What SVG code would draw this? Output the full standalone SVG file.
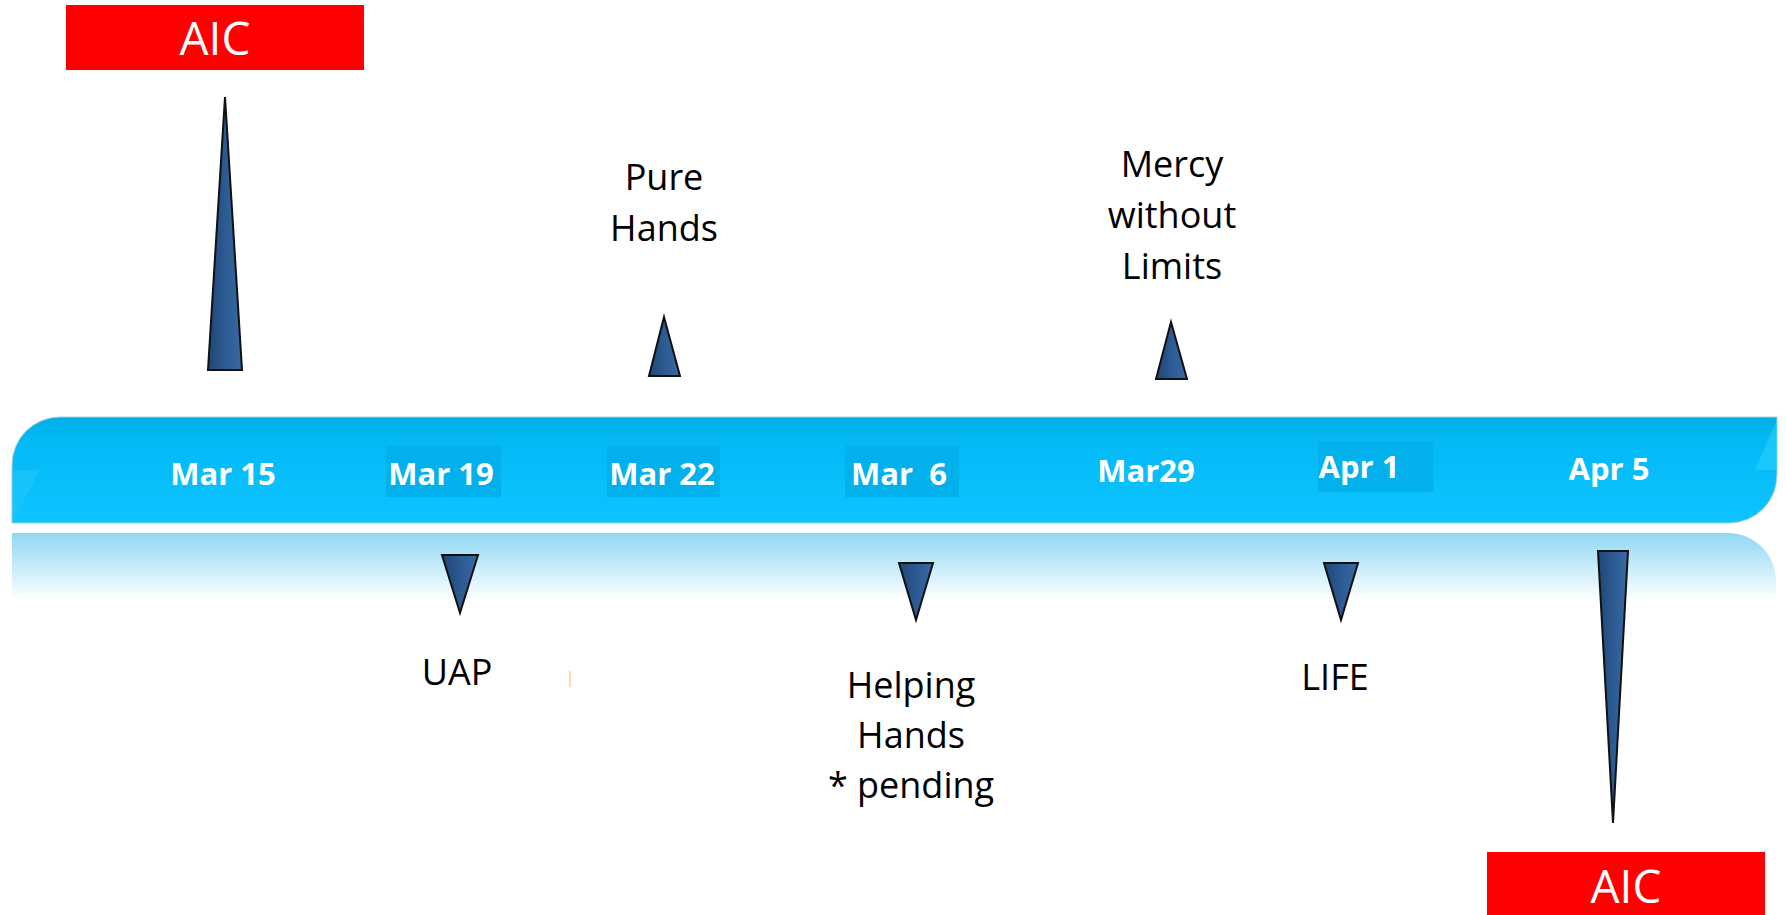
<svg xmlns="http://www.w3.org/2000/svg" width="1786" height="915" viewBox="0 0 1786 915">
<defs>
<linearGradient id="barG" x1="0" y1="0" x2="0" y2="1">
<stop offset="0" stop-color="#00aee6"/>
<stop offset="0.25" stop-color="#04baf6"/>
<stop offset="1" stop-color="#0cc4ff"/>
</linearGradient>
<linearGradient id="reflG" x1="0" y1="0" x2="0" y2="1">
<stop offset="0" stop-color="#8fd8f3"/>
<stop offset="0.5" stop-color="#c6ebf9"/>
<stop offset="1" stop-color="#ffffff"/>
</linearGradient>
<linearGradient id="triG" x1="0" y1="0" x2="1" y2="0">
<stop offset="0" stop-color="#1f4675"/>
<stop offset="0.5" stop-color="#2c5a92"/>
<stop offset="1" stop-color="#3a6aa3"/>
</linearGradient>
<style>
.tri{fill:url(#triG);stroke:#111;stroke-width:2;stroke-linejoin:miter}
.date{font-family:"Open Sans","Liberation Sans",sans-serif;font-weight:bold;font-size:31px;fill:#fff;text-anchor:middle;white-space:pre}
.lbl{font-family:"Open Sans","Liberation Sans",sans-serif;font-size:36px;fill:#000;text-anchor:middle}
.aic{font-family:"Open Sans","Liberation Sans",sans-serif;font-size:46px;fill:#fff;text-anchor:middle}
.hl{fill:#02b1ec}
</style>
</defs>
<rect width="1786" height="915" fill="#fff"/>
<g id="timeline">
<path d="M12,533 L1728,533 A48,48 0 0 1 1776,581 L1776,600 L12,600 Z" fill="url(#reflG)"/>
<path d="M12,523 L12,465 A48,48 0 0 1 60,417 L1777,417 L1777,475 A48,48 0 0 1 1729,523 Z" fill="url(#barG)" stroke="#a9cfdc" stroke-width="1"/>
<path d="M12,523 L12,470 L40,470 Z" fill="#27c6fb" opacity="0.5"/>
<path d="M1777,420 L1777,470 L1755,470 Z" fill="#30d4ff" opacity="0.5"/>
<rect class="hl" x="386" y="446" width="115" height="51"/>
<rect class="hl" x="607" y="446" width="113" height="51"/>
<rect class="hl" x="845" y="446" width="114" height="51"/>
<rect class="hl" x="1318" y="441" width="115" height="51"/>
<text class="date" x="223" y="485">Mar 15</text>
<text class="date" x="441" y="485">Mar 19</text>
<text class="date" x="662" y="485">Mar 22</text>
<text class="date" x="899" y="485">Mar  6</text>
<text class="date" x="1146" y="482">Mar29</text>
<text class="date" x="1359" y="478">Apr 1</text>
<text class="date" x="1609" y="480">Apr 5</text>
</g>
<g id="aic-top">
<rect x="66" y="5" width="298" height="65" fill="#ff0000"/>
<text class="aic" x="215" y="55">AIC</text>
</g>
<g id="aic-bottom">
<rect x="1487" y="852" width="278" height="70" fill="#ff0000"/>
<text class="aic" x="1626" y="903">AIC</text>
</g>
<g id="pure-hands">
<text class="lbl" x="664" y="190">Pure</text>
<text class="lbl" x="664" y="241">Hands</text>
</g>
<g id="mercy">
<text class="lbl" x="1172" y="177">Mercy</text>
<text class="lbl" x="1172" y="228">without</text>
<text class="lbl" x="1172" y="279">Limits</text>
</g>
<g id="uap">
<text class="lbl" x="457" y="685">UAP</text>
</g>
<g id="helping-hands">
<text class="lbl" x="911" y="698">Helping</text>
<text class="lbl" x="911" y="748">Hands</text>
<text class="lbl" x="911" y="798">* pending</text>
</g>
<g id="life">
<text class="lbl" x="1335" y="690">LIFE</text>
</g>
<line x1="570" y1="671" x2="570" y2="687" stroke="#f5cfa0" stroke-width="1.5"/>
<g id="connectors">
<polygon class="tri" points="225,97 242,370 208,370"/>
<polygon class="tri" points="664,317 680,376 649,376"/>
<polygon class="tri" points="1171,322 1187,379 1156,379"/>
<polygon class="tri" points="442,555 478,555 460,613"/>
<polygon class="tri" points="899,563 933,563 916,620"/>
<polygon class="tri" points="1324,563 1358,563 1341,620"/>
<polygon class="tri" points="1598,551 1628,551 1613,823"/>
</g>
</svg>
